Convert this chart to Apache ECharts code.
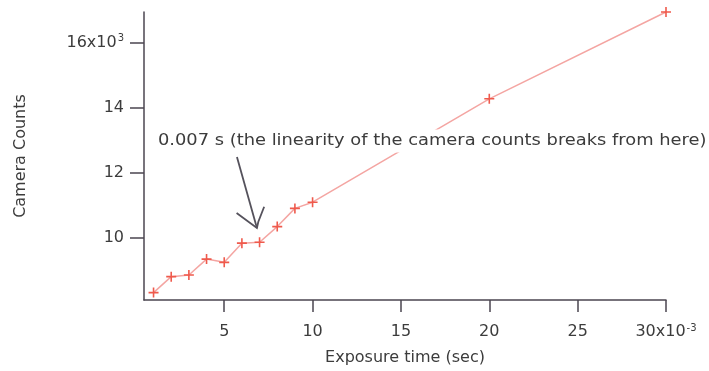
<!DOCTYPE html>
<html>
<head>
<meta charset="utf-8">
<script src="https://cdn.jsdelivr.net/npm/echarts@6/dist/echarts.min.js"></script>
<style>html,body{margin:0;padding:0;background:#fff;}#c{width:709px;height:371px;}</style>
</head>
<body>
<div id="c"></div>
<script>
// Data (exposure time in units of 1e-3 s, counts)
var exposureMs = [1, 2, 3, 4, 5, 6, 7, 8, 9, 10, 20, 30];
var cameraCounts = [8320, 8810, 8860, 9350, 9250, 9840, 9870, 10350, 10910, 11100, 14280, 16950];
var xTicks = [5, 10, 15, 20, 25, 30];
var yTicks = [10000, 12000, 14000, 16000];
var annotationText = '0.007 s (the linearity of the camera counts breaks from here)';
var xTitle = 'Exposure time (sec)';
var yTitle = 'Camera Counts';

var axisColor = '#4b4650';
var textColor = '#3c3c3c';
var font = 'DejaVu Sans';

var chart = echarts.init(document.getElementById('c'), null, {renderer: 'canvas'});
var seriesData = exposureMs.map(function (x, i) { return [x, cameraCounts[i]]; });

var supStyle = {fontSize: 10, fontFamily: font, color: textColor, verticalAlign: 'bottom', padding: [0, 0, 12, 1]};

var option = {
  backgroundColor: '#ffffff',
  animation: false,
  grid: {left: 144, right: 43, top: 12, bottom: 71, containLabel: false},
  xAxis: {
    type: 'value', min: 0.46, max: 30,
    name: xTitle, nameLocation: 'middle', nameGap: 48,
    nameTextStyle: {fontFamily: font, fontSize: 16, color: textColor},
    axisLine: {show: true, lineStyle: {color: axisColor, width: 1.5}},
    axisTick: {show: true, inside: false, length: 12, customValues: xTicks, lineStyle: {color: axisColor, width: 1.5}},
    axisLabel: {
      customValues: xTicks, margin: 19, fontFamily: font, fontSize: 16, color: textColor, lineHeight: 26,
      formatter: function (v) { return v === 30 ? '30x10{sup|-3}' : String(v); },
      rich: {sup: supStyle}
    },
    splitLine: {show: false}
  },
  yAxis: {
    type: 'value', min: 8092, max: 16950,
    name: yTitle, nameLocation: 'middle', nameGap: 115, nameRotate: 90,
    nameTextStyle: {fontFamily: font, fontSize: 16, color: textColor},
    axisLine: {show: true, lineStyle: {color: axisColor, width: 1.5}},
    axisTick: {show: true, inside: false, length: 14, customValues: yTicks, lineStyle: {color: axisColor, width: 1.5}},
    axisLabel: {
      customValues: yTicks, margin: 20, fontFamily: font, fontSize: 16, color: textColor, lineHeight: 26,
      formatter: function (v) { var k = Math.round(v / 1000); return k === 16 ? '16x10{sup|3}' : String(k); },
      rich: {sup: supStyle}
    },
    splitLine: {show: false}
  },
  series: [{
    type: 'line',
    data: seriesData,
    symbol: 'path://M4.2,0h1.6v4.2h4.2v1.6h-4.2v4.2h-1.6v-4.2h-4.2v-1.6h4.2z',
    symbolSize: 10,
    itemStyle: {color: '#ef5a4c'},
    lineStyle: {color: '#f4a5a2', width: 1.5},
    clip: false,
    z: 2
  }]
};
chart.setOption(option);

// Annotation anchored in data coordinates
var annText = [1.25, 12980];
var arrowStart = [5.72, 12490];
var arrowTip = [6.85, 10310];
var headLeft = [5.70, 10770];
var headRightTop = [7.26, 10960];
var headRightMid = [6.93, 10500];
function px(p) { return chart.convertToPixel({gridIndex: 0}, p); }
var t = px(annText), s = px(arrowStart), tip = px(arrowTip), hl = px(headLeft), hr = px(headRightTop), hm = px(headRightMid);
chart.setOption({
  graphic: [
    {type: 'text', x: t[0], y: t[1], scaleX: 1.19, scaleY: 1, z: 10,
     style: {text: annotationText, x: 0, y: 0, align: 'left', verticalAlign: 'middle',
             fontFamily: font, fontSize: 15, fill: textColor, backgroundColor: '#ffffff', padding: [4, 1, 4, 0]}},
    {type: 'polyline', z: 11, shape: {points: [s, tip]}, style: {stroke: '#55525c', lineWidth: 1.8, fill: null}},
    {type: 'polyline', z: 11, shape: {points: [hl, tip, hm, hr]}, style: {stroke: '#55525c', lineWidth: 1.8, fill: null}}
  ]
});
</script>
</body>
</html>
